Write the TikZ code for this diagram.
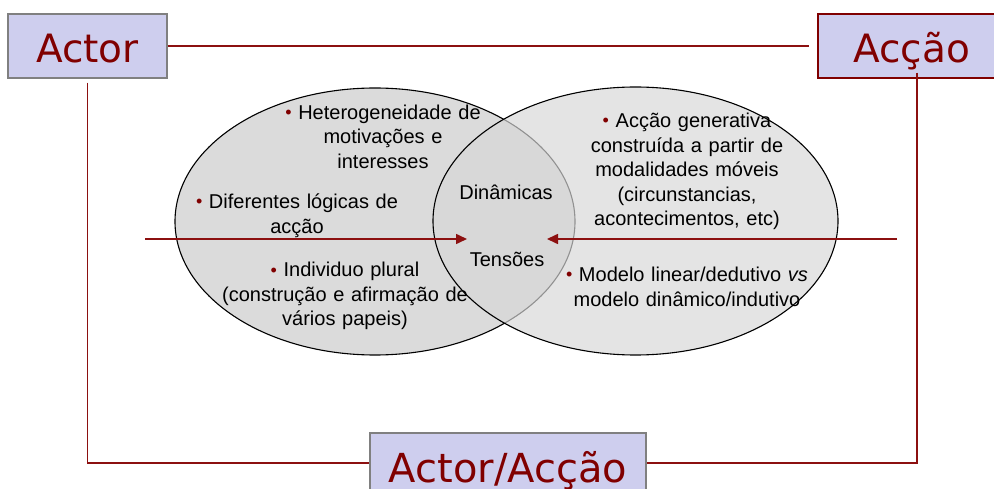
\documentclass[tikz,border=0pt]{standalone}
\usepackage{fontspec}
\setmainfont{Liberation Sans}
\newfontfamily\boxfont{DejaVu Sans}
\usetikzlibrary{arrows.meta}
\definecolor{boxfill}{RGB}{206,206,238}
\definecolor{boxedge}{RGB}{128,128,128}
\definecolor{dred}{RGB}{128,0,0}
\definecolor{lred}{RGB}{140,16,16}
\definecolor{ellfill}{RGB}{219,219,219}
\definecolor{ellfillb}{RGB}{215,215,215}
\newcommand{\bul}{{\color{dred}\fontsize{18}{18}\selectfont\raisebox{1pt}{•}}\ }
\begin{document}
\begin{tikzpicture}[x=1pt,y=-1pt,
 titlebox/.style={draw=boxedge, fill=boxfill, line width=1.2pt, text=dred,
   font=\boxfont\fontsize{39}{39}\selectfont, inner sep=0pt, text height=33pt, text depth=0pt},
 link/.style={draw=lred, line width=1.6pt},
 flow/.style={link, -{Triangle[length=11pt,width=10pt]}},
 ell/.style={line width=1.1pt, draw=black},
 body/.style={font=\fontsize{20}{24.5}\selectfont, text width=280pt, align=center,
   anchor=base, inner sep=0pt, text=black}
]
\useasboundingbox (0,0) rectangle (994,489);
\clip (0,0) rectangle (994,489);

% ellipses
\path[fill=ellfill, ell] (375,221.5) ellipse [x radius=200pt, y radius=133.5pt];
\path[fill=ellfillb, fill opacity=0.68, ell] (635.5,221) ellipse [x radius=202.5pt, y radius=134pt];

% boxes
\node[titlebox, minimum width=159pt, minimum height=64pt] (actor) at (87.5,46) {Actor};
\node[titlebox, draw=dred, minimum width=187pt, minimum height=64pt] (accao) at (911.5,46) {Acção};
\node[titlebox, font=\boxfont\fontsize{40}{40}\selectfont, minimum width=276pt, minimum height=65pt] (aa) at (508,465.5) {Actor/Acção};

% texts
\node[body] (t1) at (383,119.5) {\bul Heterogeneidade de\\motivações e\\interesses};
\node[body] (t2) at (297,209) {\bul Diferentes lógicas de\\acção};
\node[body] (t3) at (345,277) {\bul Individuo plural\\(construção e afirmação de\\vários papeis)};
\node[body] (din) at (506,199.3) {Dinâmicas};
\node[body] (ten) at (507,266.7) {Tensões};
\node[body] (t4) at (687,128) {\bul Acção generativa\\construída a partir de\\modalidades móveis\\(circunstancias,\\acontecimentos, etc)};
\node[body] (t5) at (687,282) {\bul Modelo linear/dedutivo \textit{vs}\\modelo dinâmico/indutivo};

% connectors
\draw[link, shorten >=8pt] (actor.east) -- (accao.west);
\draw[link, shorten <=4pt] (actor.south) |- ([yshift=2.5pt]aa.west);
\draw[link] ([xshift=5.5pt,yshift=6pt]accao.south) |- ([yshift=2.5pt]aa.east);

\coordinate (lstart) at (145,239);
\coordinate (ltip) at (467,239);
\coordinate (rstart) at (897,239);
\coordinate (rtip) at (547,239);
\draw[flow] (lstart) -- (ltip);
\draw[flow] (rstart) -- (rtip);
\end{tikzpicture}
\end{document}
